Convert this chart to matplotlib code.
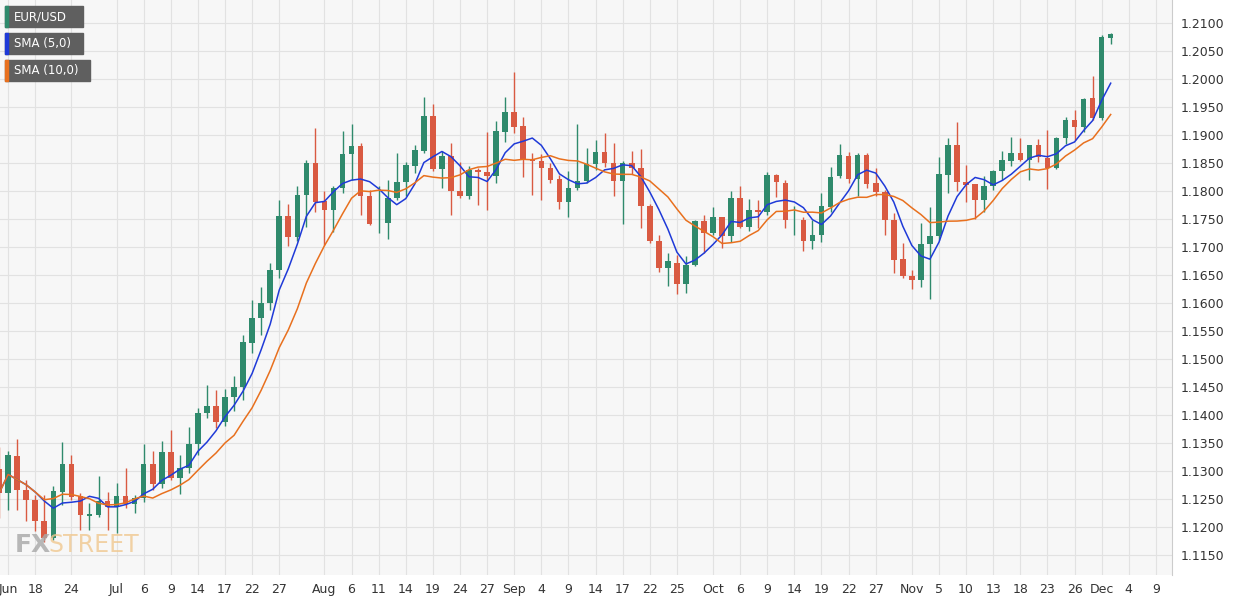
import matplotlib
matplotlib.use("Agg")
import matplotlib.pyplot as plt
import pandas as pd
import numpy as np

start_date = "2020-06-12"
opens = [1.1302,1.1260,1.1326,1.1266,1.1247,1.1210,1.1180,1.1263,1.1312,1.1254,1.1219,1.1221,1.1245,1.1236,1.1254,1.1241,
 1.1251,1.1312,1.1277,1.1333,1.1287,1.1305,1.1347,1.1403,1.1415,1.1388,1.1431,1.1449,1.1529,1.1573,1.1600,1.1659,1.1754,1.1718,1.1793,1.1849,
 1.1781,1.1765,1.1805,1.1866,1.1879,1.1791,1.1742,1.1743,1.1787,1.1815,1.1845,1.1872,1.1934,1.1839,1.1862,1.1799,1.1790,1.1836,1.1833,1.1826,
 1.1906,1.1940,1.1915,1.1857,1.1853,1.1841,1.1820,1.1780,1.1805,1.1817,1.1848,1.1869,1.1849,1.1818,1.1849,1.1841,1.1773,1.1710,1.1662,1.1671,
 1.1634,1.1667,1.1745,1.1724,1.1752,1.1720,1.1786,1.1736,1.1766,1.1762,1.1828,1.1814,1.1748,1.1748,1.1711,1.1721,1.1772,1.1826,1.1862,1.1821,
 1.1864,1.1813,1.1798,1.1748,1.1677,1.1648,1.1641,1.1705,1.1719,1.1829,1.1881,1.1815,1.1811,1.1784,1.1809,1.1835,1.1854,1.1867,1.1855,1.1881,
 1.1858,1.1841,1.1894,1.1926,1.1915,1.1965,1.1930,1.2074]
closes = [1.1260,1.1327,1.1266,1.1247,1.1210,1.1180,1.1263,1.1312,1.1254,1.1221,1.1222,1.1245,1.1236,1.1254,1.1241,1.1251,
 1.1312,1.1277,1.1333,1.1287,1.1305,1.1347,1.1402,1.1415,1.1388,1.1431,1.1449,1.1529,1.1573,1.1600,1.1659,1.1754,1.1718,1.1793,1.1849,1.1781,
 1.1765,1.1805,1.1866,1.1879,1.1791,1.1741,1.1743,1.1787,1.1815,1.1845,1.1872,1.1934,1.1839,1.1862,1.1799,1.1790,1.1836,1.1833,1.1826,1.1906,
 1.1940,1.1915,1.1857,1.1854,1.1841,1.1820,1.1780,1.1805,1.1817,1.1848,1.1869,1.1849,1.1818,1.1849,1.1840,1.1773,1.1710,1.1662,1.1674,1.1634,
 1.1667,1.1745,1.1724,1.1752,1.1720,1.1786,1.1736,1.1765,1.1762,1.1828,1.1815,1.1748,1.1748,1.1711,1.1721,1.1772,1.1824,1.1863,1.1821,1.1864,
 1.1813,1.1798,1.1748,1.1677,1.1648,1.1641,1.1705,1.1719,1.1829,1.1881,1.1815,1.1811,1.1784,1.1809,1.1835,1.1854,1.1867,1.1855,1.1881,1.1861,
 1.1841,1.1894,1.1926,1.1915,1.1963,1.1930,1.2074,1.2080]
highs = [1.1343,1.1336,1.1357,1.1284,1.1257,1.1257,1.1272,1.1351,1.1329,1.1260,1.1242,1.1291,1.1263,1.1278,1.1305,1.1257,
 1.1348,1.1335,1.1354,1.1372,1.1329,1.1378,1.1412,1.1454,1.1445,1.1446,1.1470,1.1543,1.1605,1.1629,1.1671,1.1784,1.1777,1.1808,1.1855,1.1912,
 1.1799,1.1808,1.1907,1.1919,1.1885,1.1802,1.1809,1.1819,1.1867,1.1852,1.1882,1.1967,1.1955,1.1872,1.1885,1.1852,1.1845,1.1841,1.1906,1.1924,
 1.1967,1.2013,1.1932,1.1867,1.1866,1.1849,1.1828,1.1836,1.1920,1.1876,1.1891,1.1903,1.1885,1.1854,1.1872,1.1874,1.1777,1.1721,1.1689,1.1686,
 1.1684,1.1748,1.1757,1.1772,1.1753,1.1799,1.1809,1.1785,1.1784,1.1834,1.1830,1.1820,1.1773,1.1754,1.1748,1.1796,1.1843,1.1883,1.1870,1.1867,
 1.1867,1.1840,1.1801,1.1761,1.1707,1.1659,1.1742,1.1772,1.1861,1.1894,1.1923,1.1846,1.1812,1.1826,1.1838,1.1871,1.1897,1.1894,1.1882,1.1893,
 1.1909,1.1897,1.1932,1.1945,1.1966,1.2005,1.2078,1.2082]
lows = [1.1216,1.1230,1.1230,1.1210,1.1192,1.1172,1.1177,1.1238,1.1248,1.1195,1.1195,1.1218,1.1195,1.1189,1.1233,1.1224,
 1.1245,1.1266,1.1269,1.1284,1.1258,1.1296,1.1329,1.1394,1.1376,1.1380,1.1406,1.1427,1.1510,1.1543,1.1588,1.1644,1.1701,1.1710,1.1736,1.1763,
 1.1704,1.1727,1.1796,1.1820,1.1757,1.1739,1.1725,1.1714,1.1784,1.1790,1.1832,1.1867,1.1835,1.1805,1.1757,1.1787,1.1785,1.1775,1.1766,1.1814,
 1.1888,1.1904,1.1824,1.1793,1.1784,1.1814,1.1767,1.1754,1.1802,1.1814,1.1837,1.1843,1.1790,1.1741,1.1830,1.1733,1.1707,1.1656,1.1630,1.1616,
 1.1618,1.1665,1.1689,1.1721,1.1698,1.1709,1.1733,1.1729,1.1733,1.1757,1.1789,1.1733,1.1722,1.1692,1.1696,1.1708,1.1763,1.1823,1.1814,1.1790,
 1.1805,1.1790,1.1722,1.1653,1.1644,1.1624,1.1628,1.1606,1.1713,1.1797,1.1799,1.1781,1.1749,1.1763,1.1802,1.1820,1.1844,1.1854,1.1819,1.1851,
 1.1803,1.1839,1.1884,1.1891,1.1906,1.1927,1.1927,1.2062]

tick_dates = ["2020-06-15","2020-06-18","2020-06-24","2020-07-01","2020-07-06","2020-07-09","2020-07-14","2020-07-17","2020-07-22","2020-07-27",
 "2020-08-03","2020-08-06","2020-08-11","2020-08-14","2020-08-19","2020-08-24","2020-08-27","2020-09-01","2020-09-04","2020-09-09",
 "2020-09-14","2020-09-17","2020-09-22","2020-09-25","2020-10-01","2020-10-06","2020-10-09","2020-10-14","2020-10-19","2020-10-22",
 "2020-10-27","2020-11-02","2020-11-05","2020-11-10","2020-11-13","2020-11-18","2020-11-23","2020-11-26","2020-12-01","2020-12-04","2020-12-09"]
tick_labels = ["Jun","18","24","Jul","6","9","14","17","22","27","Aug","6","11","14","19","24","27","Sep","4","9","14","17","22","25",
 "Oct","6","9","14","19","22","27","Nov","5","10","13","18","23","26","Dec","4","9"]

days = pd.bdate_range(start_date, "2020-12-11")
pos = {d: i for i, d in enumerate(days)}
n = len(closes)
x = np.arange(n)
o = np.array(opens); c = np.array(closes); h = np.array(highs); l = np.array(lows)
sma5 = pd.Series(c).rolling(5, min_periods=1).mean()
sma10 = pd.Series(c).rolling(10, min_periods=1).mean()

GREEN = "#2f8a6c"; RED = "#d95a42"
fig = plt.figure(figsize=(12.43, 6.02), dpi=100)
fig.patch.set_facecolor("white")
ax = fig.add_axes([0, 0.045, 0.943, 0.955])
ax.set_facecolor("#f7f7f7")
up = c >= o
cols = np.where(up, GREEN, RED)
ax.vlines(x, l, h, colors=cols, lw=1, zorder=2)
ax.bar(x, np.abs(c - o) + 0.00005, bottom=np.minimum(o, c), width=0.62, color=cols, zorder=3)
ax.plot(x, sma5, color="#1f3ad8", lw=1.1, zorder=4)
ax.plot(x, sma10, color="#e8701e", lw=1.1, zorder=4)

ax.set_xlim(0.1, pos[pd.Timestamp("2020-12-11")] - 0.2)
ax.set_ylim(1.1114, 1.2141)
yt = np.arange(1.1150, 1.21001, 0.005)
ax.set_yticks(yt)
ax.set_yticklabels([f"{v:.4f}" for v in yt])
ax.yaxis.tick_right()
ax.set_xticks([pos[pd.Timestamp(d)] for d in tick_dates])
ax.set_xticklabels(tick_labels)
ax.tick_params(colors="#333333", labelsize=9, length=0, pad=6)
ax.grid(True, color="#e2e2e2", lw=0.8, zorder=0)
for s in ["top", "left", "bottom"]:
    ax.spines[s].set_visible(False)
ax.spines["right"].set_color("#cccccc")

legend = [("EUR/USD", GREEN), ("SMA (5,0)", "#1f3ad8"), ("SMA (10,0)", "#e8701e")]
for i, (t, col) in enumerate(legend):
    y0 = 1 - (6 + i * 27) / 602
    hgt = 21 / 602
    w = [78, 78, 85][i] / 1243
    fig.patches.append(plt.Rectangle((5/1243, y0 - hgt), w, hgt, transform=fig.transFigure, color="#5f5f5f", zorder=5))
    fig.patches.append(plt.Rectangle((5/1243, y0 - hgt), 3/1243, hgt, transform=fig.transFigure, color=col, zorder=6))
    fig.text(14/1243, y0 - hgt / 2, t, color="white", fontsize=8.5, va="center", ha="left", zorder=7)

fig.text(15/1243, 1 - 545/602, "FX", color="#a8a8a8", fontsize=18, va="center", ha="left", fontweight="bold", alpha=0.8)
fig.text(49/1243, 1 - 545/602, "STREET", color="#f0c890", fontsize=17, va="center", ha="left", alpha=0.8)

fig.savefig("out.png", dpi=100)
